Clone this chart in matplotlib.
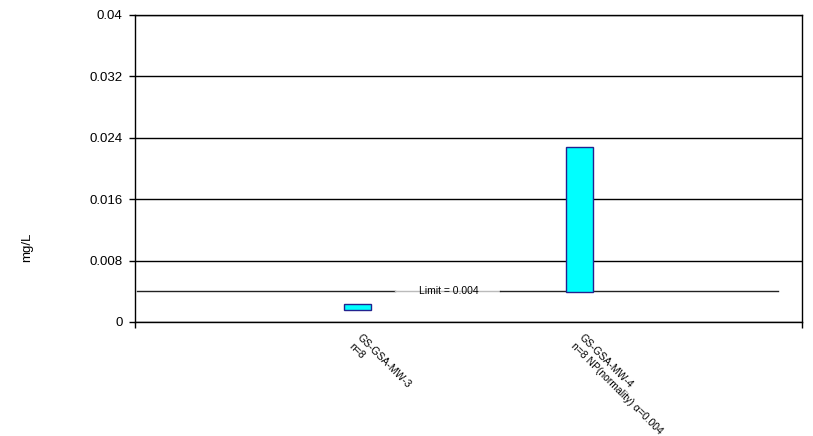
import numpy as np
import matplotlib.pyplot as plt

plt.rcParams['font.family'] = ['Liberation Sans', 'DejaVu Sans']

# Well data (range of each box, mg/L)
wells = ["GS-GSA-MW-3\nn=8", "GS-GSA-MW-4\nn=8 NP(normality) \u03b1=0.004"]
lows = [0.0016, 0.0039]
highs = [0.0023, 0.0228]
limit = 0.004
y_ticks = [0, 0.008, 0.016, 0.024, 0.032, 0.04]
y_labels = ["0", "0.008", "0.016", "0.024", "0.032", "0.04"]

fig = plt.figure(figsize=(8.13, 4.36), dpi=100)
ax = fig.add_axes([0.166, 0.2615, 0.8205, 0.7041])

x = np.arange(1, len(wells) + 1)
heights = np.array(highs) - np.array(lows)
ax.bar(x, heights, bottom=lows, width=0.12, color='#00FFFF',
       edgecolor='#22228f', linewidth=1.0, zorder=3)

# limit line, broken where the label sits
ax.plot([0.01, 1.17], [limit, limit], color='#222222', linewidth=1.0, zorder=2)
ax.plot([1.17, 1.64], [limit, limit], color='#bbbbbb', linewidth=1.0, zorder=2)
ax.plot([1.64, 2.89], [limit, limit], color='#222222', linewidth=1.0, zorder=2)
ax.text(1.41, limit, "Limit = 0.004", fontsize=7.5, ha='center', va='center', zorder=4)

ax.set_xlim(0, 3)
ax.set_ylim(0, 0.04)
ax.set_yticks(y_ticks)
ax.set_yticklabels(y_labels, fontsize=9.5)
ax.yaxis.grid(True, color='black', linewidth=1.0)
ax.set_axisbelow(True)
ax.set_xticks([0, 3])
ax.set_xticklabels([])
ax.tick_params(axis='both', direction='out', length=4, width=1, color='black')
ax.tick_params(axis='y', pad=5)
for s in ax.spines.values():
    s.set_linewidth(1.0)

for xi, lab in zip(x, wells):
    ax.text(xi + 0.02, -0.0014, lab, fontsize=7.5, rotation=-45, rotation_mode='anchor',
            ha='left', va='top', multialignment='left')

fig.text(0.033, 0.433, "mg/L", rotation=90, fontsize=9.5, ha='center', va='center')

fig.savefig("out.png", dpi=100)
